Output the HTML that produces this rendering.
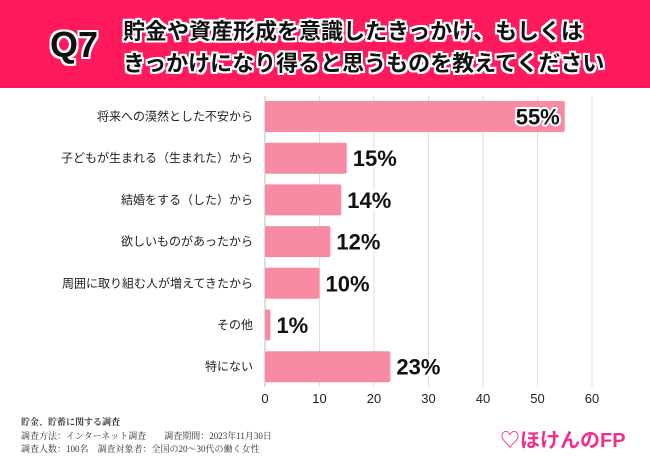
<!DOCTYPE html>
<html><head><meta charset="utf-8">
<style>
body{margin:0;width:650px;height:465px;background:#fff;font-family:"Liberation Sans","Noto Sans CJK JP",sans-serif;overflow:hidden;position:relative}
#hdr{position:absolute;left:0;top:0;width:650px;height:88px;background:#FF1A5E}
.q{position:absolute;left:50px;top:24px;font-size:36px;font-weight:900;color:#111;-webkit-text-stroke:0;text-shadow:2px 0 #fff,-2px 0 #fff,0 2px #fff,0 -2px #fff,2px 2px #fff,-2px -2px #fff,2px -2px #fff,-2px 2px #fff}
.t{position:absolute;left:123px;font-size:22px;font-weight:bold;color:#111;white-space:nowrap;text-shadow:2px 0 #fff,-2px 0 #fff,0 2px #fff,0 -2px #fff,2px 2px #fff,-2px -2px #fff,2px -2px #fff,-2px 2px #fff}
.foot{position:absolute;left:21px;font-family:"Liberation Serif","Noto Serif CJK SC",serif;font-size:9px;color:#333;white-space:nowrap}
</style></head><body>
<div id="hdr">
<div class="q">Q7</div>
<div class="t" style="top:14px">貯金や資産形成を意識したきっかけ、もしくは</div>
<div class="t" style="top:46px">きっかけになり得ると思うものを教えてください</div>
</div>
<svg id="chart" width="650" height="465" style="position:absolute;left:0;top:0"></svg>
<div class="foot" style="top:415px;font-weight:bold">貯金、貯蓄に関する調査</div>
<div class="foot" style="top:429px">調査方法：インターネット調査　　調査期間：2023年11月30日</div>
<div class="foot" style="top:442px">調査人数：100名　調査対象者：全国の20〜30代の働く女性</div>
<div style="position:absolute;left:500px;top:424px;font-size:20px;font-weight:bold;color:#F0308A;white-space:nowrap">♡ほけんのFP</div>
<script>
const categories=["将来への漠然とした不安から","子どもが生まれる（生まれた）から","結婚をする（した）から","欲しいものがあったから","周囲に取り組む人が増えてきたから","その他","特にない"];
const values=[55,15,14,12,10,1,23];
const ticks=[0,10,20,30,40,50,60];
const svg=document.getElementById('chart');
const NS='http://www.w3.org/2000/svg';
const x0=265,x1=592,top0=96,pitch=41.7,bh=31,gridBottom=387;
const xs=v=>x0+(v-0)/(60-0)*(x1-x0);
function mk(t,a){const e=document.createElementNS(NS,t);for(const k in a)e.setAttribute(k,a[k]);svg.appendChild(e);return e;}
ticks.forEach((t,i)=>{
 const g=mk('line',{x1:xs(t),x2:xs(t),y1:top0,y2:gridBottom,stroke:i==0?'#bbb':'#ddd','stroke-width':1});
 
 
 const l=mk('text',{x:xs(t),y:403,'text-anchor':'middle','font-size':13,fill:'#222','font-family':'Liberation Sans, sans-serif'});
 l.textContent=t;
 
 
});
categories.forEach((c,i)=>{
 const y=top0+5+i*pitch;
 const r=mk('rect',{x:x0,y:y,width:xs(values[i])-x0,height:bh,fill:'#F98AA4',rx:2});
 
 
 const t=mk('text',{x:253,y:y+bh/2+4,'text-anchor':'end','font-size':12,fill:'#222','font-family':'Liberation Sans, Noto Sans CJK JP, sans-serif'});
 t.textContent=c;
 
 
 const inside=values[i]>40;
 const vx=inside?xs(values[i])-5:xs(values[i])+6;
 const v=mk('text',{x:vx,y:y+bh/2+8,'text-anchor':inside?'end':'start','font-size':22,'font-weight':'bold',fill:'#111',stroke:'#fff','stroke-width':4,'paint-order':'stroke','stroke-linejoin':'round','font-family':'Liberation Sans, sans-serif'});
 v.textContent=values[i]+'%';
 
 
});
</script>
</body></html>
